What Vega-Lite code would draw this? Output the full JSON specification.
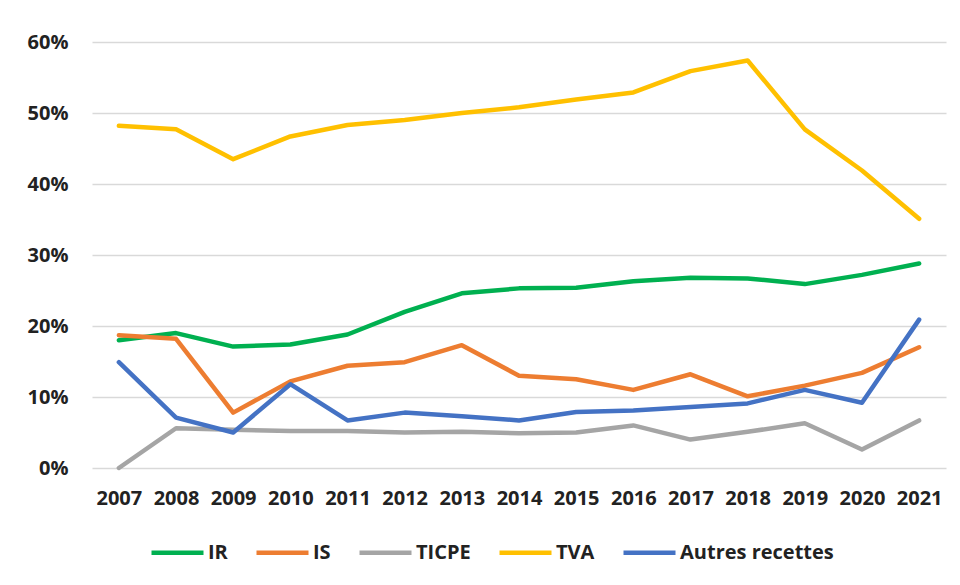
{
  "$schema": "https://vega.github.io/schema/vega-lite/v6.json",
  "autosize": {"type": "none"},
  "width": 854,
  "height": 426,
  "padding": {"left": 92, "top": 42, "right": 14, "bottom": 117},
  "background": "white",
  "config": {
    "view": {"stroke": null},
    "font": "Open Sans",
    "axis": {"labelFont": "Open Sans", "labelFontWeight": "bold", "labelColor": "#222222", "labelFontSize": 20}
  },
  "data": {
    "values": [
      {"annee": "2007", "serie": "IR", "part": 18.0},
      {"annee": "2008", "serie": "IR", "part": 19.0},
      {"annee": "2009", "serie": "IR", "part": 17.1},
      {"annee": "2010", "serie": "IR", "part": 17.4},
      {"annee": "2011", "serie": "IR", "part": 18.8},
      {"annee": "2012", "serie": "IR", "part": 22.0},
      {"annee": "2013", "serie": "IR", "part": 24.6},
      {"annee": "2014", "serie": "IR", "part": 25.3},
      {"annee": "2015", "serie": "IR", "part": 25.4},
      {"annee": "2016", "serie": "IR", "part": 26.3},
      {"annee": "2017", "serie": "IR", "part": 26.8},
      {"annee": "2018", "serie": "IR", "part": 26.7},
      {"annee": "2019", "serie": "IR", "part": 25.9},
      {"annee": "2020", "serie": "IR", "part": 27.2},
      {"annee": "2021", "serie": "IR", "part": 28.8},
      {"annee": "2007", "serie": "IS", "part": 18.7},
      {"annee": "2008", "serie": "IS", "part": 18.2},
      {"annee": "2009", "serie": "IS", "part": 7.8},
      {"annee": "2010", "serie": "IS", "part": 12.2},
      {"annee": "2011", "serie": "IS", "part": 14.4},
      {"annee": "2012", "serie": "IS", "part": 14.9},
      {"annee": "2013", "serie": "IS", "part": 17.3},
      {"annee": "2014", "serie": "IS", "part": 13.0},
      {"annee": "2015", "serie": "IS", "part": 12.5},
      {"annee": "2016", "serie": "IS", "part": 11.0},
      {"annee": "2017", "serie": "IS", "part": 13.2},
      {"annee": "2018", "serie": "IS", "part": 10.1},
      {"annee": "2019", "serie": "IS", "part": 11.6},
      {"annee": "2020", "serie": "IS", "part": 13.4},
      {"annee": "2021", "serie": "IS", "part": 17.0},
      {"annee": "2007", "serie": "TICPE", "part": 0.0},
      {"annee": "2008", "serie": "TICPE", "part": 5.6},
      {"annee": "2009", "serie": "TICPE", "part": 5.4},
      {"annee": "2010", "serie": "TICPE", "part": 5.2},
      {"annee": "2011", "serie": "TICPE", "part": 5.2},
      {"annee": "2012", "serie": "TICPE", "part": 5.0},
      {"annee": "2013", "serie": "TICPE", "part": 5.1},
      {"annee": "2014", "serie": "TICPE", "part": 4.9},
      {"annee": "2015", "serie": "TICPE", "part": 5.0},
      {"annee": "2016", "serie": "TICPE", "part": 6.0},
      {"annee": "2017", "serie": "TICPE", "part": 4.0},
      {"annee": "2018", "serie": "TICPE", "part": 5.1},
      {"annee": "2019", "serie": "TICPE", "part": 6.3},
      {"annee": "2020", "serie": "TICPE", "part": 2.6},
      {"annee": "2021", "serie": "TICPE", "part": 6.7},
      {"annee": "2007", "serie": "TVA", "part": 48.2},
      {"annee": "2008", "serie": "TVA", "part": 47.7},
      {"annee": "2009", "serie": "TVA", "part": 43.5},
      {"annee": "2010", "serie": "TVA", "part": 46.7},
      {"annee": "2011", "serie": "TVA", "part": 48.3},
      {"annee": "2012", "serie": "TVA", "part": 49.0},
      {"annee": "2013", "serie": "TVA", "part": 50.0},
      {"annee": "2014", "serie": "TVA", "part": 50.8},
      {"annee": "2015", "serie": "TVA", "part": 51.9},
      {"annee": "2016", "serie": "TVA", "part": 52.9},
      {"annee": "2017", "serie": "TVA", "part": 55.9},
      {"annee": "2018", "serie": "TVA", "part": 57.4},
      {"annee": "2019", "serie": "TVA", "part": 47.7},
      {"annee": "2020", "serie": "TVA", "part": 41.9},
      {"annee": "2021", "serie": "TVA", "part": 35.1},
      {"annee": "2007", "serie": "Autres recettes", "part": 14.9},
      {"annee": "2008", "serie": "Autres recettes", "part": 7.1},
      {"annee": "2009", "serie": "Autres recettes", "part": 5.0},
      {"annee": "2010", "serie": "Autres recettes", "part": 11.8},
      {"annee": "2011", "serie": "Autres recettes", "part": 6.7},
      {"annee": "2012", "serie": "Autres recettes", "part": 7.8},
      {"annee": "2013", "serie": "Autres recettes", "part": 7.3},
      {"annee": "2014", "serie": "Autres recettes", "part": 6.7},
      {"annee": "2015", "serie": "Autres recettes", "part": 7.9},
      {"annee": "2016", "serie": "Autres recettes", "part": 8.1},
      {"annee": "2017", "serie": "Autres recettes", "part": 8.6},
      {"annee": "2018", "serie": "Autres recettes", "part": 9.1},
      {"annee": "2019", "serie": "Autres recettes", "part": 11.0},
      {"annee": "2020", "serie": "Autres recettes", "part": 9.2},
      {"annee": "2021", "serie": "Autres recettes", "part": 20.9}
    ]
  },
  "mark": {"type": "line", "strokeWidth": 4.5, "strokeJoin": "round", "strokeCap": "round"},
  "encoding": {
    "x": {
      "field": "annee",
      "type": "ordinal",
      "scale": {"type": "point", "padding": 0.47},
      "axis": {"title": null, "labelAngle": 0, "ticks": false, "domain": false, "grid": false, "labelPadding": 20}
    },
    "y": {
      "field": "part",
      "type": "quantitative",
      "scale": {"domain": [0, 60], "nice": false},
      "axis": {
        "title": null,
        "values": [0, 10, 20, 30, 40, 50, 60],
        "labelExpr": "datum.value + '%'",
        "ticks": false,
        "domain": false,
        "grid": true,
        "gridColor": "#d9d9d9",
        "gridWidth": 1.5,
        "labelPadding": 24
      }
    },
    "color": {
      "field": "serie",
      "type": "nominal",
      "scale": {
        "domain": ["IR", "IS", "TICPE", "TVA", "Autres recettes"],
        "range": ["#00B050", "#ED7D31", "#A5A5A5", "#FFC000", "#4472C4"]
      },
      "legend": {
        "title": null,
        "orient": "none",
        "direction": "horizontal",
        "legendX": 57,
        "legendY": 482,
        "symbolType": "stroke",
        "symbolSize": 2704,
        "symbolStrokeWidth": 4.5,
        "labelFont": "Open Sans",
        "labelFontWeight": "bold",
        "labelFontSize": 20,
        "labelColor": "#222222",
        "labelOffset": 2,
        "columnPadding": 19
      }
    }
  }
}
